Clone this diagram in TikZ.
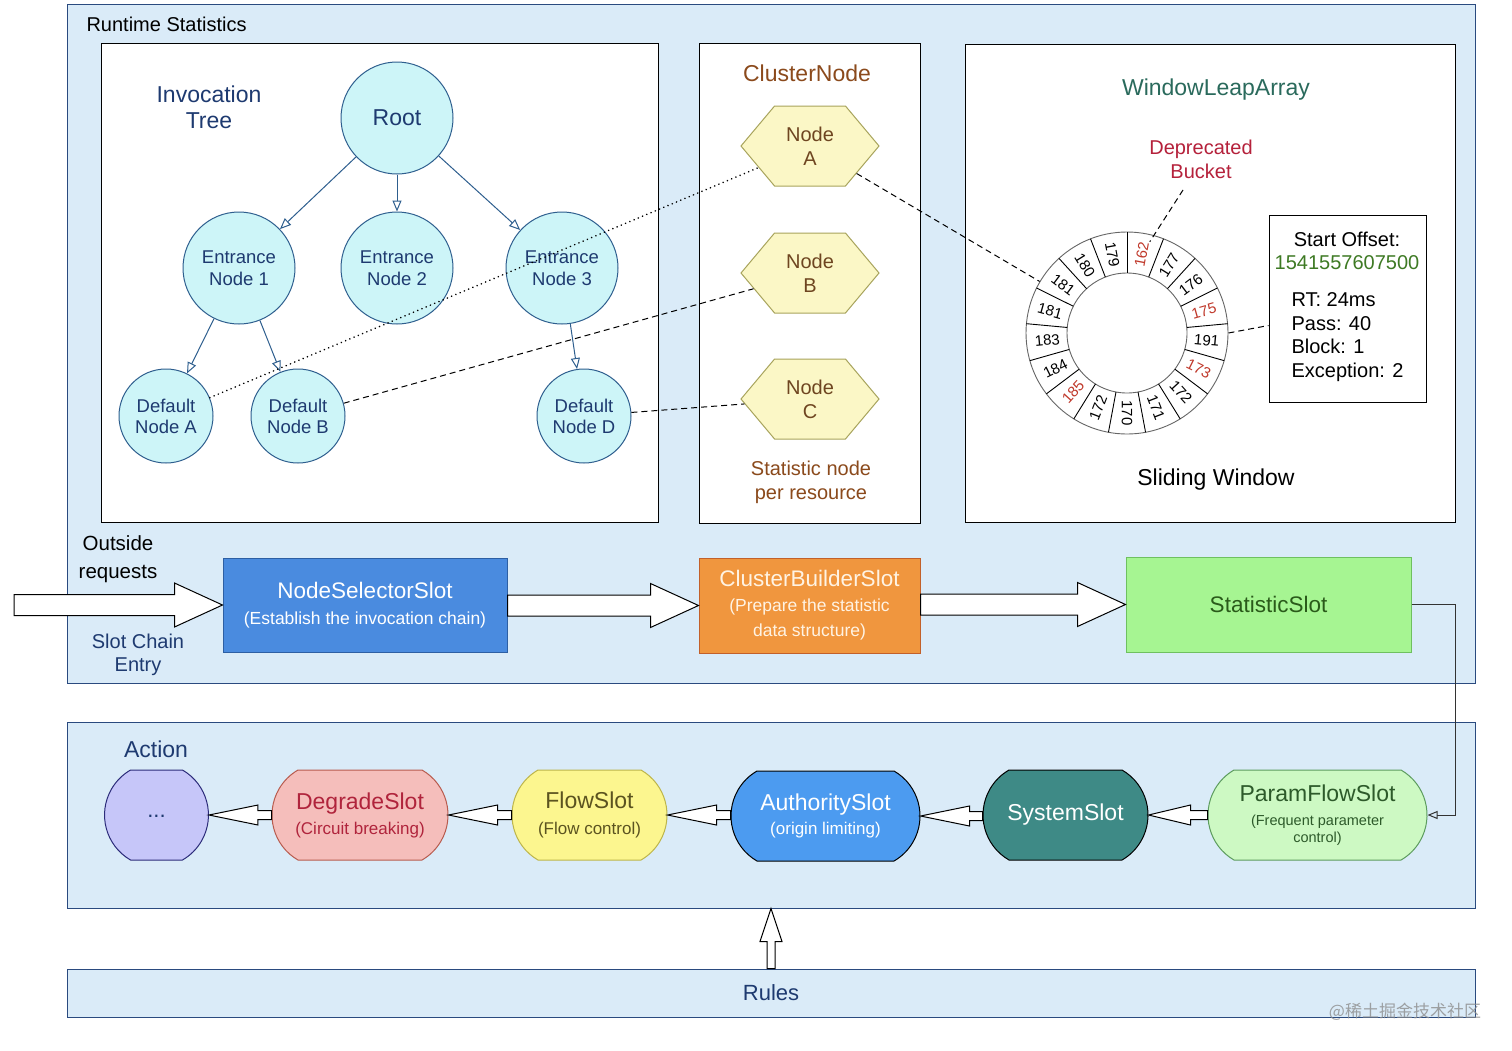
\documentclass[tikz,border=0pt]{standalone}
\usepackage{fontspec}
\setmainfont{Liberation Sans}
\newfontfamily\cjkfont{Noto Sans CJK SC}
\usetikzlibrary{arrows.meta,shapes.misc,shapes.symbols,calc}
\newcommand\fs[2]{\fontsize{#1}{#2}\selectfont}
\definecolor{bgblue}{HTML}{DAEBF8}
\definecolor{panelline}{HTML}{2A4A7F}
\definecolor{treeline}{HTML}{2E5E8E}
\definecolor{cyanfill}{HTML}{CDF5F8}
\definecolor{navytext}{HTML}{1E3A70}
\definecolor{hexfill}{HTML}{FBF7C6}
\definecolor{hexline}{HTML}{A8A45C}
\definecolor{browntitle}{HTML}{8B4A1C}
\definecolor{hextext}{HTML}{6E4520}
\definecolor{tealtext}{HTML}{2A6A5C}
\definecolor{depred}{HTML}{B5213B}
\definecolor{numgreen}{HTML}{3E7A24}
\definecolor{ringred}{HTML}{C0392B}
\definecolor{nssfill}{HTML}{4A8BDF}
\definecolor{nssline}{HTML}{2D5FA3}
\definecolor{cbsfill}{HTML}{F0963E}
\definecolor{cbsline}{HTML}{C2602A}
\definecolor{cbstext}{HTML}{FFF3E3}
\definecolor{statfill}{HTML}{A6F592}
\definecolor{statline}{HTML}{6FC060}
\definecolor{stattext}{HTML}{2A5A1A}
\definecolor{dotsfill}{HTML}{C6C6F9}
\definecolor{dotsline}{HTML}{2C2C7A}
\definecolor{degfill}{HTML}{F5BEBB}
\definecolor{degline}{HTML}{B85B4E}
\definecolor{degtext}{HTML}{B0243C}
\definecolor{flowfill}{HTML}{FCF68F}
\definecolor{flowline}{HTML}{BDB54A}
\definecolor{flowtext}{HTML}{5B5320}
\definecolor{authfill}{HTML}{4C9BF0}
\definecolor{sysfill}{HTML}{3E8A86}
\definecolor{paramfill}{HTML}{CDF9C3}
\definecolor{paramline}{HTML}{5C9C5E}
\definecolor{paramtext}{HTML}{2D5A2A}
\newcommand\rarrow[5]{\draw[barrow] let \p1=(#1), \p2=(#2) in
  (\x1,\y2+#5pt) -- (\x2-#3pt,\y2+#5pt) -- (\x2-#3pt,\y2+#4pt) -- (\x2,\y2)
  -- (\x2-#3pt,\y2-#4pt) -- (\x2-#3pt,\y2-#5pt) -- (\x1,\y2-#5pt) -- cycle;}
\newcommand\larrow[5]{\draw[barrow] let \p1=(#1), \p2=(#2) in
  (\x1,\y2+#5pt) -- (\x2+#3pt,\y2+#5pt) -- (\x2+#3pt,\y2+#4pt) -- (\x2,\y2)
  -- (\x2+#3pt,\y2-#4pt) -- (\x2+#3pt,\y2-#5pt) -- (\x1,\y2-#5pt) -- cycle;}
\newcommand\uarrow[5]{\draw[barrow] let \p1=(#1), \p2=(#2) in
  (\x2+#5pt,\y1) -- (\x2+#5pt,\y2-#3pt) -- (\x2+#4pt,\y2-#3pt) -- (\x2,\y2)
  -- (\x2-#4pt,\y2-#3pt) -- (\x2-#5pt,\y2-#3pt) -- (\x2-#5pt,\y1) -- cycle;}
\begin{document}
\begin{tikzpicture}[x=1pt,y=-1pt,
  panel/.style={rectangle, draw=panelline, fill=bgblue, line width=1pt, inner sep=0},
  wbox/.style={rectangle, draw=black, fill=white, line width=1pt, inner sep=0},
  tnode/.style={circle, draw=treeline, fill=cyanfill, text=navytext, align=center, inner sep=0, line width=1pt},
  tarrow/.style={draw=treeline, line width=1pt, -{Triangle[open,length=11pt,width=9pt]}},
  hexnode/.style={shape=signal, signal to=west and east, signal pointer angle=100,
     minimum width=138, minimum height=80, inner sep=1pt, draw=hexline, fill=hexfill,
     text=hextext, align=center, line width=1pt, font=\fs{20}{24}},
  topslot/.style={rectangle, line width=1pt, align=center, inner sep=0},
  botslot/.style={rounded rectangle, rounded rectangle arc length=120, minimum height=90,
     line width=1pt, align=center, inner sep=0},
  barrow/.style={draw=black, fill=white, line width=1pt, line join=miter},
  dashln/.style={draw=black, line width=1pt, dash pattern=on 6pt off 4pt},
  dotln/.style={draw=black, line width=1.7pt, line cap=round, dash pattern=on 0.1pt off 4.5pt},
]
\useasboundingbox (0,0) rectangle (1512,1050);
\fill[white] (0,0) rectangle (1512,1050);

% panels
\node[panel, minimum width=1408, minimum height=679] (rts) at (771,343.5) {};
\node[panel, minimum width=1408, minimum height=186] (action) at (771,815) {};
\node[panel, minimum width=1408, minimum height=48, text=navytext, font=\fs{22}{26}] (rules) at (771,993) {Rules};
\node[wbox, minimum width=557, minimum height=479] (treebox) at (379.5,282.5) {};
\node[wbox, minimum width=221, minimum height=480] (clbox) at (809.5,283) {};
\node[wbox, minimum width=490, minimum height=478] (winbox) at (1210,283) {};
\node[wbox, minimum width=157, minimum height=187] (stats) at (1347.5,308.5) {};

% labels
\node[anchor=west, font=\fs{20}{24}] (rtslabel) at (83,24) {Runtime Statistics};
\node[text=navytext, align=center, font=\fs{23}{26}] (invlabel) at (209,107) {Invocation\\Tree};
\node[text=browntitle, font=\fs{23}{26}] (cltitle) at (807,73) {ClusterNode};
\node[text=browntitle, align=center, font=\fs{20}{24}] (clnote) at (811,482) {Statistic node\\per resource};
\node[text=tealtext, font=\fs{23}{26}] (wtitle) at (1216,90) {WindowLeapArray};
\node[text=depred, align=center, font=\fs{20}{24}] (dep) at (1201,159) {Deprecated\\Bucket};
\node[font=\fs{23}{26}] (slide) at (1216,480) {Sliding Window};
\node[align=center, font=\fs{20}{23.5}] (sotext) at (1347,251) {Start Offset:\\\textcolor{numgreen}{1541557607500}};
\node[anchor=west, align=left, font=\fs{20}{23.5}] (stvals) at (1288,337) {RT: 24ms\\Pass: 40\\Block: 1\\Exception: 2};
\node[align=center, font=\fs{20.5}{28}] (outside) at (118,559) {Outside\\requests};
\node[text=navytext, align=center, font=\fs{20}{23}] (entry) at (138,655) {Slot Chain\\Entry};
\node[text=navytext, font=\fs{23}{26}] (actlabel) at (156,749) {Action};
\node[text=black!45, opacity=0.8, font=\cjkfont\fs{17}{20}] (wm) at (1405,1012) {@稀土掘金技术社区};

% tree
\node[tnode, minimum size=112, font=\fs{23}{26}] (root) at (397,118) {Root};
\node[tnode, minimum size=112, font=\fs{18.5}{22}] (e1) at (239,268) {Entrance\\Node 1};
\node[tnode, minimum size=112, font=\fs{18.5}{22}] (e2) at (397,268) {Entrance\\Node 2};
\node[tnode, minimum size=112, font=\fs{18.5}{22}] (e3) at (562,268) {Entrance\\Node 3};
\node[tnode, minimum size=94, font=\fs{18.5}{21}] (da) at (166,416) {Default\\Node A};
\node[tnode, minimum size=94, font=\fs{18.5}{21}] (db) at (298,416) {Default\\Node B};
\node[tnode, minimum size=94, font=\fs{18.5}{21}] (dd) at (584,416) {Default\\Node D};
\draw[tarrow] (root) -- (e1);
\draw[tarrow] (root) -- (e2);
\draw[tarrow] (root) -- (e3);
\draw[tarrow] (e1) -- (da);
\draw[tarrow] (e1) -- (db);
\draw[tarrow] (e3) -- (dd);

% cluster nodes
\node[hexnode] (ha) at (810,146) {Node\\A};
\node[hexnode] (hb) at (810,273) {Node\\B};
\node[hexnode] (hc) at (810,399) {Node\\C};

% ring
\node[circle, minimum size=202, inner sep=0, draw=black!60, line width=0.9pt] (ring) at (1127,333) {};
\begin{scope}[shift={(1127,333)}, y=1pt]
  \draw[black!60, line width=0.9pt] (0,0) circle (60);
  \foreach \i in {0,...,16}{
    \pgfmathsetmacro\sa{90-360/17*\i}
    \draw[black, line width=0.9pt] (\sa:60) -- (\sa:101);
  }
  \foreach \lab/\col [count=\i from 0] in {162/ringred,177/black,176/black,175/ringred,191/black,173/ringred,172/black,171/black,170/black,172/black,185/ringred,184/black,183/black,181/black,181/black,180/black,179/black}{
    \pgfmathsetmacro\ang{90-360/17*(\i+0.5)}
    \pgfmathsetmacro\rot{\ang < -90.5 ? \ang+180 : \ang}
    \node[rotate=\rot, text=\col, inner sep=0, font=\fs{15}{17}] (rl\i) at (\ang:80) {\lab};
  }
  \coordinate (depend) at (76:94);
\end{scope}
\coordinate (depstart) at (1183,190);

% dashed / dotted links
\draw[dotln] (da) -- (ha);
\draw[dashln] (db) -- (hb);
\draw[dashln] (dd) -- (hc);
\draw[dashln] (ha) -- (ring);
\draw[dashln] (depstart) -- (depend);
\draw[dashln] (ring.east) -- ($(stats.west)+(0,17)$);

% slot chain top
\node[topslot, fill=nssfill, draw=nssline, minimum width=284, minimum height=94, text=white, font=\fs{22.5}{26}] (nss) at (365,605)
  {NodeSelectorSlot\\{\fs{17.5}{21}(Establish the invocation chain)}};
\node[topslot, fill=cbsfill, draw=cbsline, minimum width=221, minimum height=95, text=cbstext, font=\fs{22.5}{25}] (cbs) at (809.5,605.5)
  {ClusterBuilderSlot\\{\fs{17.5}{21}(Prepare the statistic}\\{\fs{17.5}{21}data structure)}};
\node[topslot, fill=statfill, draw=statline, minimum width=285, minimum height=95, text=stattext, font=\fs{22.5}{26}] (stat) at (1268.5,604.5) {StatisticSlot};

\coordinate (src) at (14,605);
\rarrow{src}{nss.west}{48}{22}{10.5}
\rarrow{nss.east}{cbs.west}{48}{22}{10.5}
\rarrow{cbs.east}{stat.west}{48}{22}{10.5}

% slot chain bottom
\node[botslot, fill=dotsfill, draw=dotsline, minimum width=95, text=navytext, font=\fs{22}{26}] (dots) at (156.5,815) {\makebox[0pt]{\raisebox{-4pt}{...}}};
\node[botslot, fill=degfill, draw=degline, minimum width=176, text=degtext, font=\fs{23}{25}] (deg) at (360,815)
  {DegradeSlot\\{\fs{17}{21}(Circuit breaking)}};
\node[botslot, fill=flowfill, draw=flowline, minimum width=155, text=flowtext, font=\fs{23}{26}] (flow) at (589.5,815)
  {FlowSlot\\{\fs{17}{21}(Flow control)}};
\node[botslot, fill=authfill, draw=black, minimum width=189, text=white, font=\fs{23}{24}] (auth) at (825.5,816)
  {AuthoritySlot\\{\fs{17}{21}(origin limiting)}};
\node[botslot, fill=sysfill, draw=black, minimum width=165, text=white, font=\fs{23}{26}] (sys) at (1065.5,815) {SystemSlot};
\node[botslot, fill=paramfill, draw=paramline, minimum width=219, text=paramtext, font=\fs{23}{24}] (param) at (1317.5,815)
  {ParamFlowSlot\\{\fs{14.5}{17}(Frequent parameter}\\[-7pt]{\fs{14.5}{17}control)}};

\larrow{deg.west}{dots.east}{49}{10}{4.5}
\larrow{flow.west}{deg.east}{49}{10}{4.5}
\larrow{auth.west}{flow.east}{49}{10}{4.5}
\larrow{sys.west}{auth.east}{49}{10}{4.5}
\larrow{param.west}{sys.east}{42}{10}{4.5}

\draw[black!80, line width=1pt, -{Triangle[open,length=10pt,width=8pt]}] (stat.east) -- ++(44,0) |- (param.east);

\uarrow{rules.north}{action.south}{33}{11}{4}
\end{tikzpicture}
\end{document}
